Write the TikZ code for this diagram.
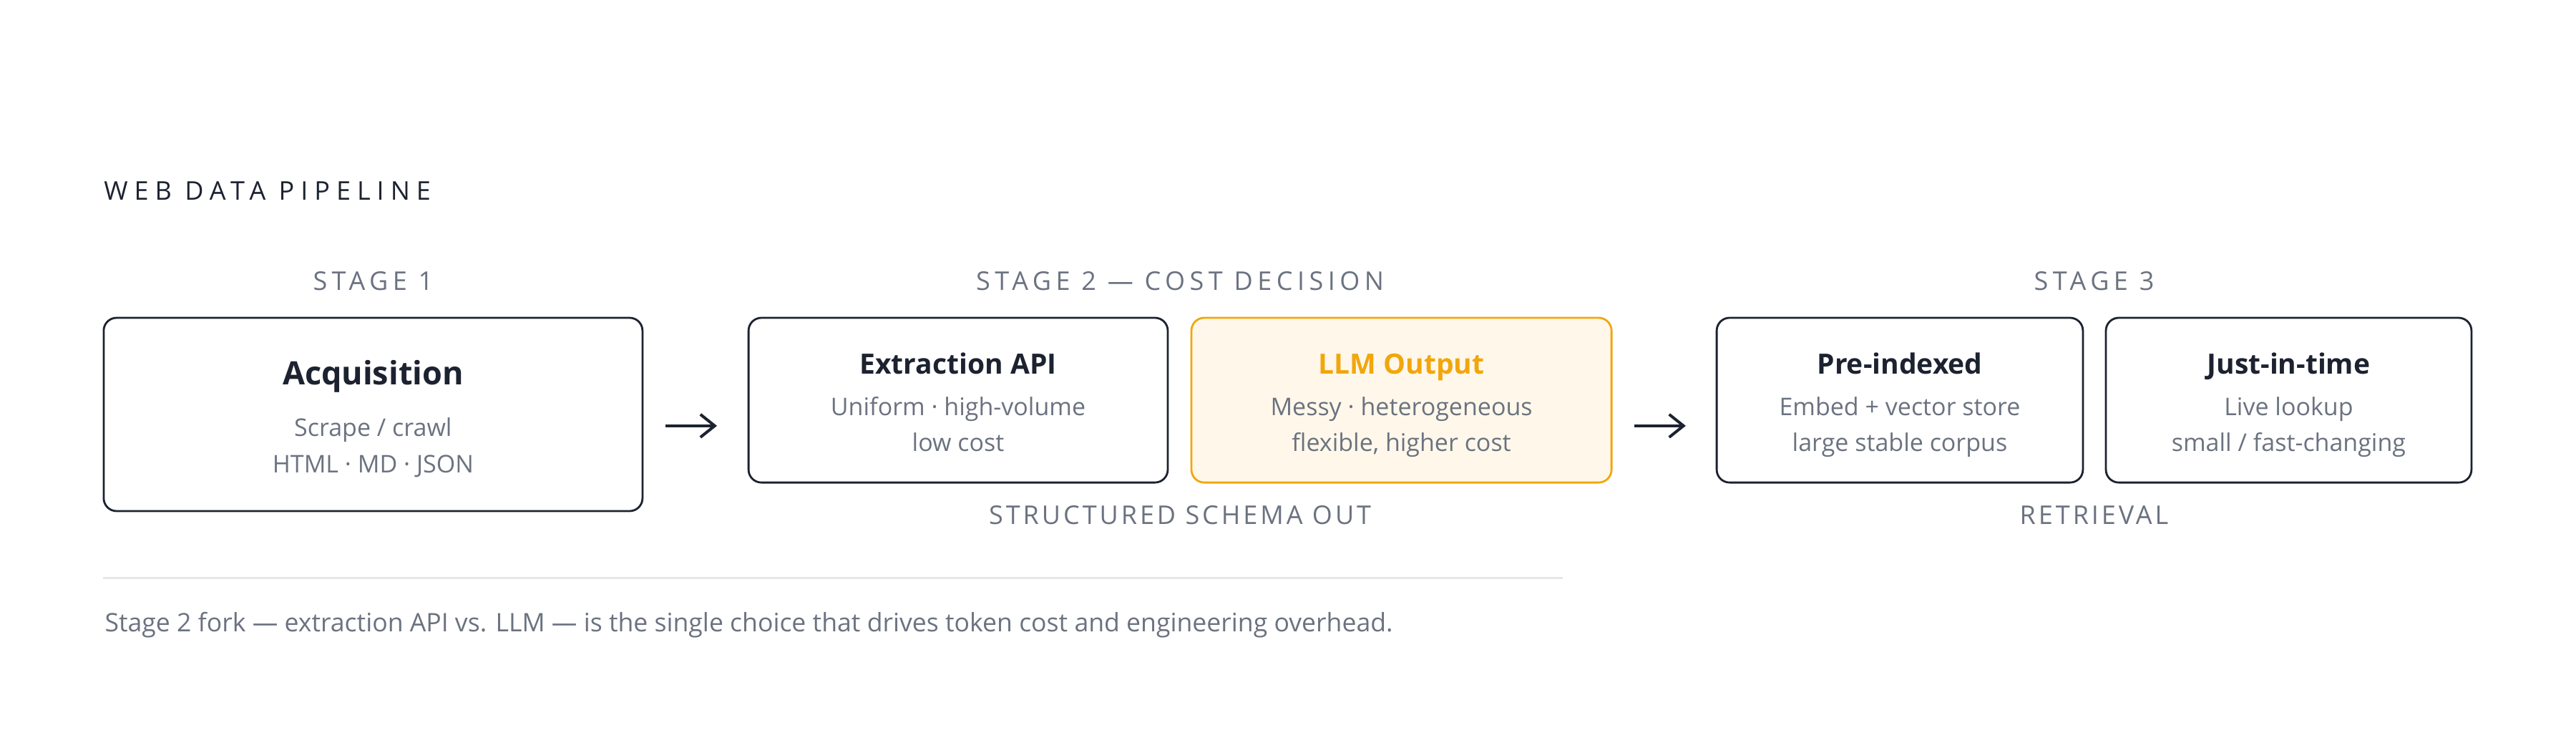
\documentclass[tikz,border=0pt]{standalone}
\usepackage{fontspec}
\setmainfont{Open Sans}
\newfontfamily\capsfont[LetterSpace=18]{Open Sans}
\newfontfamily\headfont[LetterSpace=25]{Open Sans}
\newfontfamily\lowcapsfont[LetterSpace=11]{Open Sans}
\usetikzlibrary{arrows.meta}
\definecolor{ink}{HTML}{1C2230}
\definecolor{muted}{HTML}{6B7280}
\definecolor{amber}{HTML}{F2A60D}
\definecolor{cream}{HTML}{FFF8EA}
\definecolor{rulegray}{HTML}{E5E7EB}
\begin{document}
\begin{tikzpicture}[x=1.5pt,y=-1.5pt,
  stagebox/.style={draw=ink, line width=1.4pt, rounded corners=9pt, fill=white, inner sep=0pt},
  hibox/.style={stagebox, draw=amber, fill=cream},
  ttl/.style={anchor=base, inner sep=0pt, text=ink, font=\bfseries\fontsize{19.5}{22}\selectfont},
  bigttl/.style={ttl, font=\bfseries\fontsize{22.5}{26}\selectfont},
  subtxt/.style={anchor=base, inner sep=0pt, text=muted, font=\fontsize{17}{20}\selectfont},
  foottxt/.style={anchor=base west, inner sep=0pt, text=muted, font=\fontsize{17.8}{21}\selectfont},
  capslbl/.style={anchor=base, inner sep=0pt, text=muted, font=\capsfont\fontsize{18}{21}\selectfont},
  lowlbl/.style={anchor=base, inner sep=0pt, text=muted, font=\lowcapsfont\fontsize{18}{21}\selectfont},
  headlbl/.style={anchor=base west, inner sep=0pt, text=ink, font=\headfont\fontsize{18}{21}\selectfont},
  arr/.style={draw=ink, line width=2pt, -{Straight Barb[length=10pt,width=16pt,line width=2pt]}}
]
\useasboundingbox (0,0) rectangle (1200,346);
\fill[white] (0,0) rectangle (1200,346);

% heading
\node[headlbl] (heading) at (48.3,93) {WEB DATA PIPELINE};

% stage labels
\node[capslbl] (s1) at (173.8,135.3) {STAGE 1};
\node[capslbl] (s2) at (549.7,135.3) {STAGE 2 — COST DECISION};
\node[capslbl] (s3) at (975.5,135.3) {STAGE 3};

% boxes
\node[stagebox, minimum width={251*1.5pt}, minimum height={90*1.5pt}] (acq) at (173.8,193) {};
\node[stagebox, minimum width={195.3*1.5pt}, minimum height={76.7*1.5pt}] (ext) at (446.35,186.35) {};
\node[hibox, minimum width={195.7*1.5pt}, minimum height={76.7*1.5pt}] (llm) at (652.85,186.35) {};
\node[stagebox, minimum width={170.6*1.5pt}, minimum height={76.7*1.5pt}] (pre) at (885,186.35) {};
\node[stagebox, minimum width={170.3*1.5pt}, minimum height={76.7*1.5pt}] (jit) at (1066.15,186.35) {};

% box texts
\node[bigttl] (acqt) at (173.8,179) {Acquisition};
\node[subtxt] (acq1) at (173.8,203) {Scrape / crawl};
\node[subtxt] (acq2) at (173.8,220) {HTML · MD · JSON};

\node[ttl] (extt) at (446.35,174) {Extraction API};
\node[subtxt] (ext1) at (446.35,193.5) {Uniform · high-volume};
\node[subtxt] (ext2) at (446.35,210) {low cost};

\node[ttl, text=amber] (llmt) at (652.85,174) {LLM Output};
\node[subtxt] (llm1) at (652.85,193.5) {Messy · heterogeneous};
\node[subtxt] (llm2) at (652.85,210) {flexible, higher cost};

\node[ttl] (pret) at (885,174) {Pre-indexed};
\node[subtxt] (pre1) at (885,193.5) {Embed + vector store};
\node[subtxt] (pre2) at (885,210) {large stable corpus};

\node[ttl] (jitt) at (1066.15,174) {Just-in-time};
\node[subtxt] (jit1) at (1066.15,193.5) {Live lookup};
\node[subtxt] (jit2) at (1066.15,210) {small / fast-changing};

% bottom labels
\node[lowlbl] (b2) at (549.7,244.3) {STRUCTURED SCHEMA OUT};
\node[lowlbl] (b3) at (975.5,244.3) {RETRIEVAL};

% arrows
\coordinate (a1s) at (310,198.3);
\coordinate (a1e) at (334,198.3);
\coordinate (a2s) at (761.3,198.3);
\coordinate (a2e) at (785.3,198.3);
\draw[arr] (a1s) -- (a1e);
\draw[arr] (a2s) -- (a2e);

% rule
\coordinate (r1) at (48,269);
\coordinate (r2) at (728,269);
\draw[draw=rulegray, line width=1.5pt] (r1) -- (r2);

% footer
\node[foottxt] (foot) at (48.7,294.2) {Stage 2 fork — extraction API vs. LLM — is the single choice that drives token cost and engineering overhead.};
\end{tikzpicture}
\end{document}
